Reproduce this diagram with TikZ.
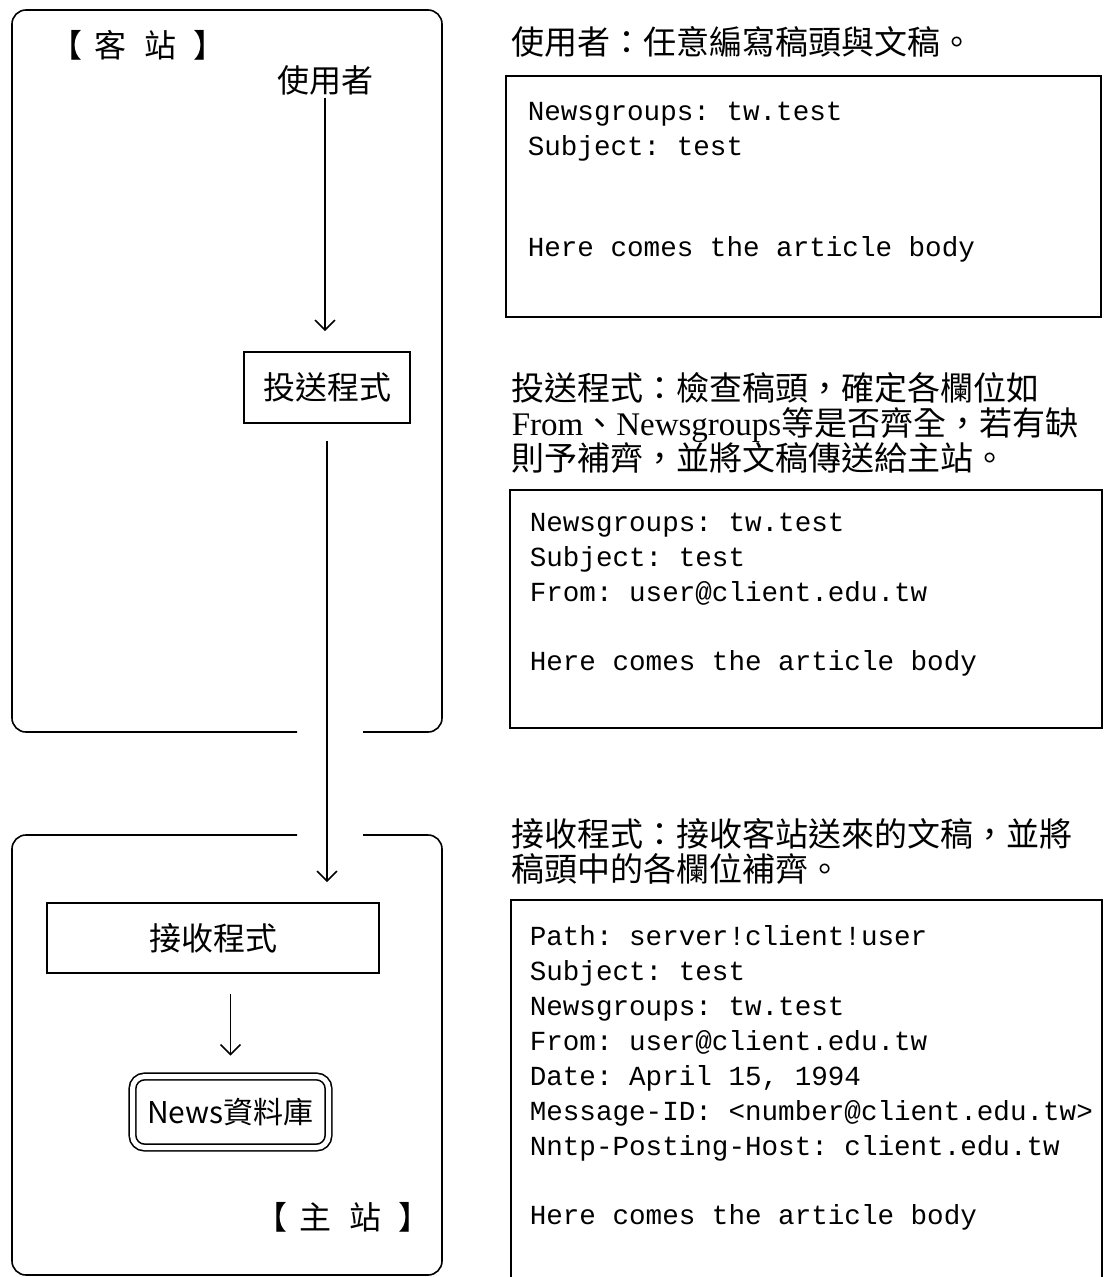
\documentclass[tikz,border=0pt]{standalone}
\usepackage{fontspec}
\usepackage{tikz}
\usetikzlibrary{arrows.meta}
\newfontfamily\cjk{Noto Sans CJK TC}
\newfontfamily\latin{Liberation Serif}
\setmonofont{Liberation Mono}

\begin{document}
\begin{tikzpicture}[x=1pt,y=-1pt,line width=1.6pt,
  prog/.style={draw, inner sep=0pt, font=\cjk\fontsize{32}{35}\selectfont},
  site/.style={anchor=west, inner sep=0pt, font=\cjk\fontsize{32}{35}\selectfont},
  desc/.style={anchor=base west, inner sep=0pt, font=\cjk\fontsize{33}{35}\selectfont},
  mail/.style={anchor=base west, inner sep=0pt, font=\ttfamily\fontsize{27.6}{35}\selectfont},
  flow/.style={-{Straight Barb[length=10pt,width=20pt]}, shorten >=20pt}]
\useasboundingbox (0,0) rectangle (1103,1277);
\clip (0,0) rectangle (1103,1277);
% client and server frames, open where the line passes
\draw [rounded corners=14pt] (297,732) -- (12,732) -- (12,10) -- (442,10) -- (442,732) -- (363,732);
\draw [rounded corners=14pt] (297,835) -- (12,835) -- (12,1275) -- (442,1275) -- (442,835) -- (363,835);
\node [site] (client) at (50,45) {【\hspace{12pt}客\hspace{18pt}站\hspace{17pt}】};
\node [site] (server) at (255,1217) {【\hspace{12pt}主\hspace{18pt}站\hspace{17pt}】};
\node [site, anchor=center] (user) at (325,80) {使用者};
\node [prog, minimum width=166pt, minimum height=71pt] (send) at (327,387.5) {投送程式};
\node [prog, minimum width=332pt, minimum height=70pt] (recv) at (213,938) {接收程式};
\node [prog, double, double distance=5pt, rounded corners=12pt, minimum width=196pt, minimum height=71pt,
  font=\cjk\fontsize{30}{35}\selectfont] (db) at (230.5,1112) {News資料庫};
\draw [flow, shorten <=2pt] (user.south) -- (user.south |- send.north);
\draw [flow, shorten <=17pt] (send.south) -- (send.south |- recv.north);
\draw [flow, shorten <=20pt] (db.north |- recv.south) -- (db.north);
% article headers on the right
\draw (506,76) rectangle (1101,317);
\draw (510,490) rectangle (1102,728);
\draw (511,900) rectangle (1102,1290);
\node [desc] (d1) at (511,54.5) {使用者：任意編寫稿頭與文稿。};
\node [desc] (d2a) at (511,400.5) {投送程式：檢查稿頭，確定各欄位如};
\node [desc] (d2b) at (511,435.5) {{\latin From}、{\latin Newsgroups}等是否齊全，若有缺};
\node [desc] (d2c) at (511,470) {則予補齊，並將文稿傳送給主站。};
\node [desc] (d3a) at (511,846) {接收程式：接收客站送來的文稿，並將};
\node [desc] (d3b) at (511,881) {稿頭中的各欄位補齊。};
\foreach \y/\t in {120/Newsgroups: tw.test, 155/Subject: test, 256/Here comes the article body}
  \node [mail] at (527,\y) {\t};
\foreach \y/\t in {531/Newsgroups: tw.test, 566/Subject: test, 601/From: user@client.edu.tw,
  670/Here comes the article body}
  \node [mail] at (529,\y) {\t};
\foreach \y/\t in {945/Path: server!client!user, 980/Subject: test, 1015/Newsgroups: tw.test,
  1050/From: user@client.edu.tw, 1085/{Date: April 15, 1994}, 1120/Message-ID: <number@client.edu.tw>,
  1155/Nntp-Posting-Host: client.edu.tw, 1224/Here comes the article body}
  \node [mail] at (529,\y) {\t};
\end{tikzpicture}
\end{document}
